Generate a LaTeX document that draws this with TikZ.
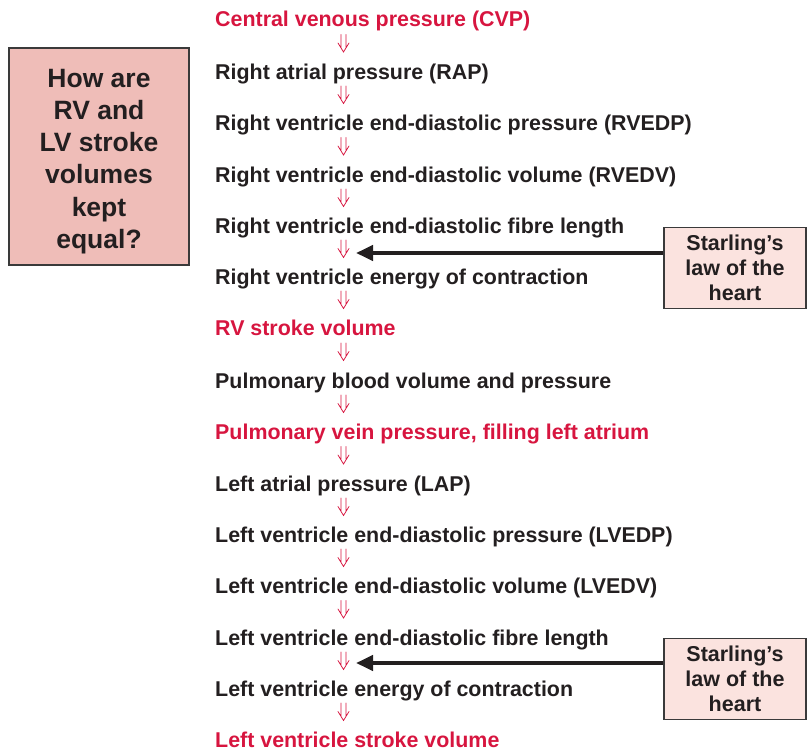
\documentclass[tikz,border=0pt]{standalone}
\usepackage{fontspec}
\setmainfont{Liberation Sans}
\usetikzlibrary{arrows.meta}
\definecolor{crim}{HTML}{D7153F}
\definecolor{ink}{HTML}{231F20}
\definecolor{qfill}{HTML}{EFBDB8}
\definecolor{sfill}{HTML}{FBE3DF}
\definecolor{bord}{HTML}{3A3A3A}
\tikzset{
  item/.style={anchor=west, inner sep=0pt, yshift=-2.5pt, font=\bfseries\fontsize{21.4}{24}\selectfont, text=ink, text height=15.5pt, text depth=4.5pt},
  hot/.style={item, text=crim},
  dbl/.pic={
    \draw[crim, line width=0.75pt, line cap=round, line join=miter]
      (-2.5pt,13pt) -- (-2.5pt,-0.4pt)
      (2.5pt,13pt) -- (2.5pt,-0.4pt)
      (-5.5pt,4.5pt) -- (0pt,-4.5pt) -- (5.5pt,4.5pt);
  },
  qbox/.style={draw=bord, line width=1.8pt, fill=qfill, minimum width=180pt, minimum height=217pt},
  qtext/.style={align=center, inner sep=0pt, text=ink, font=\bfseries\fontsize{26.5}{32.2}\selectfont},
  sbox/.style={draw=bord, line width=1.2pt, fill=sfill, minimum width=142pt, minimum height=81pt, align=center, text=ink, font=\bfseries\fontsize{21.5}{25}\selectfont},
  push/.style={ink, line width=4pt, -{Triangle[length=17pt, width=15pt]}}
}
\begin{document}
\begin{tikzpicture}[x=1pt, y=-1pt]
\useasboundingbox (0,0) rectangle (808,752);
\coordinate (ax) at (343.5,0);
\node[hot]  (n1)  at (215,19)  {Central venous pressure (CVP)};
\node[item] (n2)  at (215,71)  {Right atrial pressure (RAP)};
\node[item] (n3)  at (215,122) {Right ventricle end-diastolic pressure (RVEDP)};
\node[item] (n4)  at (215,174) {Right ventricle end-diastolic volume (RVEDV)};
\node[item] (n5)  at (215,225) {Right ventricle end-diastolic fibre length};
\node[item] (n6)  at (215,276) {Right ventricle energy of contraction};
\node[hot]  (n7)  at (215,327) {RV stroke volume};
\node[item] (n8)  at (215,380) {Pulmonary blood volume and pressure};
\node[hot]  (n9)  at (215,431) {Pulmonary vein pressure, filling left atrium};
\node[item] (n10) at (215,483) {Left atrial pressure (LAP)};
\node[item] (n11) at (215,534) {Left ventricle end-diastolic pressure (LVEDP)};
\node[item] (n12) at (215,585) {Left ventricle end-diastolic volume (LVEDV)};
\node[item] (n13) at (215,637) {Left ventricle end-diastolic fibre length};
\node[item] (n14) at (215,688) {Left ventricle energy of contraction};
\node[hot]  (n15) at (215,739) {Left ventricle stroke volume};
\foreach \a/\b in {n1/n2,n2/n3,n3/n4,n4/n5,n5/n6,n6/n7,n7/n8,n8/n9,n9/n10,n10/n11,n11/n12,n12/n13,n13/n14,n14/n15}
  \path (\a.south -| ax) -- pic[pos=0.5]{dbl} (\b.north -| ax);
\node[qbox] (q) at (99,156.5) {};
\node[qtext] (qt) at ([yshift=-5pt]q.center) {How are\\RV and\\LV stroke\\volumes\\kept\\equal?};
\node[sbox] (s1) at (735,268) {Starling’s\\law of the\\heart};
\node[sbox] (s2) at (735,679) {Starling’s\\law of the\\heart};
\coordinate (t1) at (356,253);
\coordinate (t2) at (356,663);
\draw[push] (s1.west |- t1) -- (t1);
\draw[push] (s2.west |- t2) -- (t2);
\end{tikzpicture}
\end{document}
